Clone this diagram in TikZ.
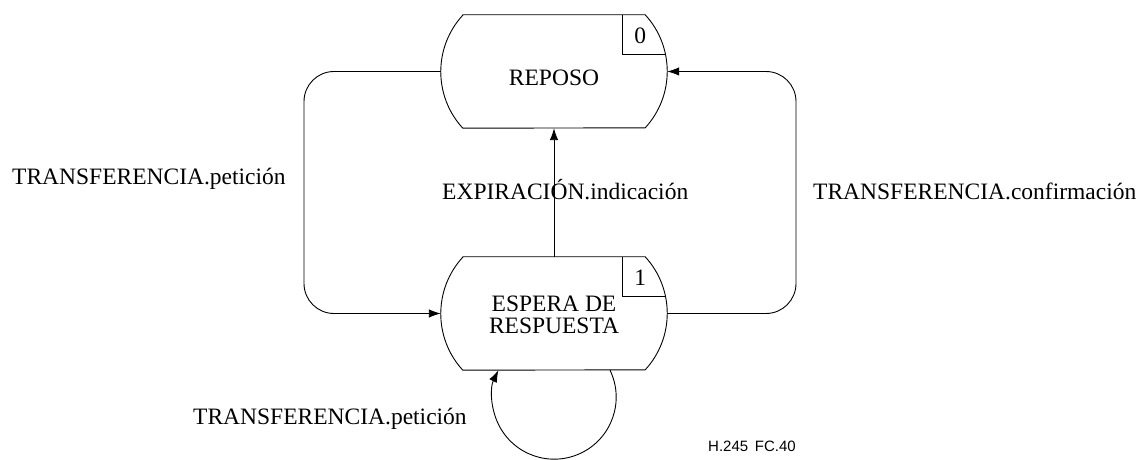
\documentclass[tikz,border=0pt]{standalone}
\usepackage{fontspec}
\setmainfont{Liberation Serif}
\newfontfamily\labelsans{Liberation Sans}
\usetikzlibrary{arrows.meta,calc}
\newcommand\drawstateoutline[1]{%
  \draw[line] ($(#1.north west)+(22,0)$) -- ($(#1.north east)+(-22,0)$)
    arc[start angle=42.6,end angle=-42.6,radius=83.5]
    -- ($(#1.south west)+(22,0)$)
    arc[start angle=222.6,end angle=137.4,radius=83.5] -- cycle;
  \draw[line] ($(#1.north east)+(-45,0)$) -- ++(0,-40) -- ++(43.4,0);
}
\begin{document}
\begin{tikzpicture}[x=1pt,y=1pt,
  line/.style={line width=0.9pt},
  arr/.style={line, -{Latex[length=12pt,width=8.5pt]}},
  state/.style={minimum width=226pt, minimum height=113pt, inner sep=0pt},
  lbl/.style={inner sep=0pt, font=\fontsize{23.5}{22}\selectfont},
  stxt/.style={lbl, align=center},
  num/.style={lbl},
  tag/.style={inner sep=0pt, font=\labelsans\fontsize{15}{18}\selectfont}
]
\useasboundingbox (0,0) rectangle (1144,460);

% states
\node[state] (s0) at (554,388.5) {};
\node[state] (s1) at (554,146.5) {};
\drawstateoutline{s0}
\drawstateoutline{s1}
\node[stxt] (t0) at ([yshift=-6pt]s0.center) {REPOSO};
\node[stxt] (t1) at ([yshift=-1.5pt]s1.center) {ESPERA DE\\RESPUESTA};
\node[num] (n0) at ($(s0.north east)+(-27,-21)$) {0};
\node[num] (n1) at ($(s1.north east)+(-27,-21)$) {1};

% helper coordinates
\coordinate (lx) at (304,0);
\coordinate (rx) at (796,0);

% connectors
\draw[arr, rounded corners=30pt] (s0.west) -- (s0.west -| lx) -- (s1.west -| lx) -- (s1.west);
\draw[arr, rounded corners=30pt] (s1.east) -- (s1.east -| rx) -- (s0.east -| rx) -- (s0.east);
\draw[arr] (s1.north) -- (s0.south);
\draw[arr] ($(s1.south)+(56,0)$) arc[start angle=25.8,end angle=-205.8,radius=62];

% labels
\node[lbl, anchor=base west] (l1) at (12,275) {TRANSFERENCIA.petición};
\node[lbl, anchor=base west] (l2) at (442,260) {EXPIRACIÓN.indicación};
\node[lbl, anchor=base west] (l3) at (813,260) {TRANSFERENCIA.confirmación};
\node[lbl, anchor=base west] (l4) at (193,35) {TRANSFERENCIA.petición};
\node[tag, anchor=base west] (fc) at (708,8) {H.245\hspace{0.45em}FC.40};
\end{tikzpicture}
\end{document}
